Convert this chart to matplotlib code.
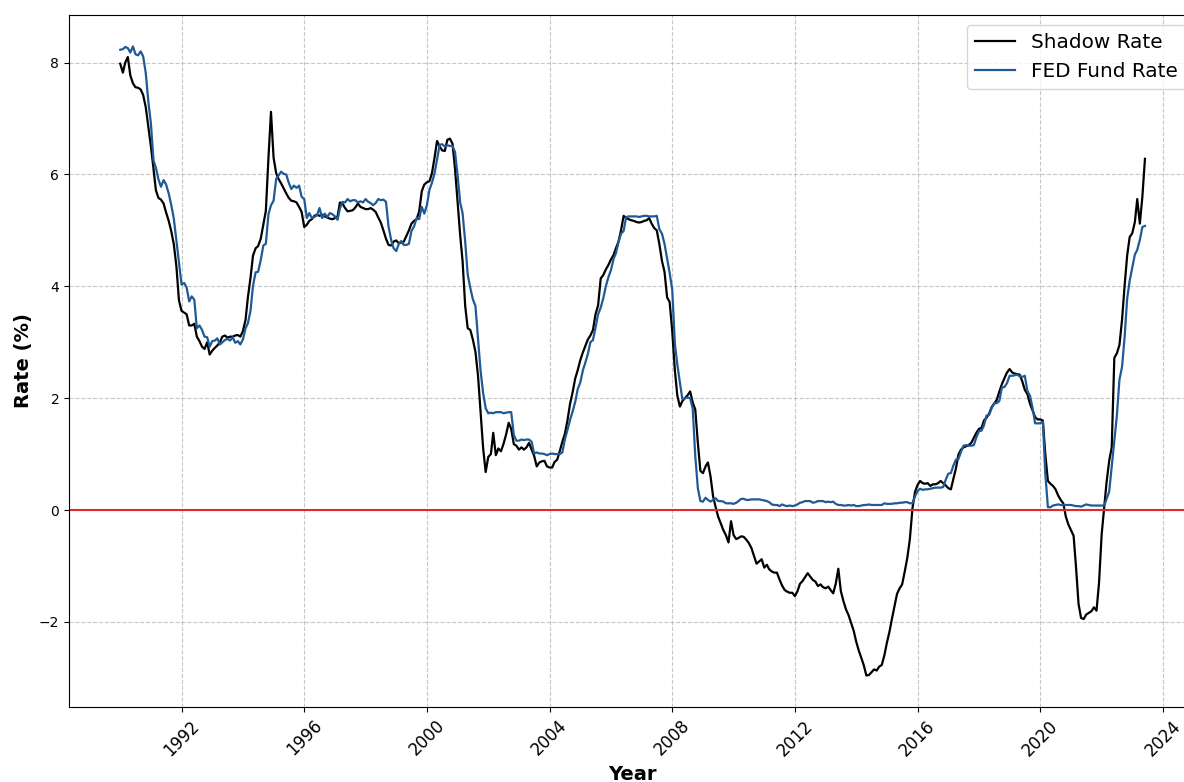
import numpy as np
import pandas as pd
import matplotlib
matplotlib.use("Agg")
import matplotlib.pyplot as plt
import matplotlib.dates as mdates

# monthly observations, Jan 1990 - Jun 2023
months = pd.date_range("1990-01-01", "2023-06-01", freq="MS")

shadow_rate = [
    7.98, 7.82, 8.00, 8.10, 7.77, 7.63, 7.56, 7.55, 7.52, 7.42, 7.20, 6.85,  # 1990
    6.50, 6.10, 5.72, 5.58, 5.55, 5.48, 5.32, 5.17, 4.98, 4.75, 4.35, 3.75,  # 1991
    3.56, 3.53, 3.50, 3.30, 3.30, 3.33, 3.10, 3.02, 2.92, 2.88, 3.00, 2.78,  # 1992
    2.85, 2.90, 2.94, 3.00, 3.10, 3.12, 3.08, 3.10, 3.10, 3.12, 3.13, 3.10,  # 1993
    3.20, 3.40, 3.80, 4.15, 4.55, 4.68, 4.72, 4.85, 5.10, 5.35, 6.30, 7.12,  # 1994
    6.30, 6.02, 5.92, 5.84, 5.75, 5.66, 5.58, 5.53, 5.52, 5.50, 5.42, 5.33,  # 1995
    5.06, 5.10, 5.17, 5.20, 5.26, 5.28, 5.26, 5.28, 5.25, 5.23, 5.21, 5.20,  # 1996
    5.22, 5.25, 5.50, 5.48, 5.40, 5.34, 5.35, 5.36, 5.41, 5.48, 5.42, 5.40,  # 1997
    5.38, 5.38, 5.40, 5.37, 5.33, 5.23, 5.14, 5.00, 4.85, 4.74, 4.73, 4.80,  # 1998
    4.82, 4.77, 4.78, 4.80, 4.90, 5.00, 5.12, 5.17, 5.20, 5.34, 5.70, 5.82,  # 1999
    5.86, 5.88, 6.02, 6.30, 6.60, 6.50, 6.43, 6.42, 6.62, 6.64, 6.55, 6.10,  # 2000
    5.50, 4.90, 4.45, 3.65, 3.25, 3.22, 3.05, 2.83, 2.40, 1.75, 1.10, 0.68,  # 2001
    0.95, 1.00, 1.38, 0.98, 1.10, 1.05, 1.18, 1.35, 1.56, 1.45, 1.18, 1.15,  # 2002
    1.08, 1.12, 1.08, 1.12, 1.20, 1.08, 0.97, 0.78, 0.85, 0.87, 0.88, 0.78,  # 2003
    0.76, 0.76, 0.86, 0.90, 1.05, 1.22, 1.36, 1.60, 1.90, 2.10, 2.35, 2.50,  # 2004
    2.68, 2.82, 2.93, 3.05, 3.12, 3.22, 3.50, 3.66, 4.14, 4.20, 4.30, 4.38,  # 2005
    4.48, 4.56, 4.68, 4.80, 5.00, 5.26, 5.22, 5.20, 5.18, 5.17, 5.15, 5.14,  # 2006
    5.15, 5.17, 5.18, 5.22, 5.12, 5.04, 5.00, 4.75, 4.45, 4.26, 3.80, 3.72,  # 2007
    3.20, 2.50, 2.05, 1.85, 1.95, 2.00, 2.05, 2.12, 1.92, 1.80, 1.20, 0.70,  # 2008
    0.66, 0.78, 0.85, 0.60, 0.25, 0.05, -0.12, -0.24, -0.36, -0.45, -0.58, -0.20,  # 2009
    -0.45, -0.52, -0.50, -0.47, -0.48, -0.53, -0.59, -0.68, -0.82, -0.96, -0.92, -0.88,  # 2010
    -1.03, -0.98, -1.06, -1.10, -1.12, -1.12, -1.24, -1.35, -1.43, -1.46, -1.48, -1.48,  # 2011
    -1.54, -1.45, -1.32, -1.27, -1.20, -1.13, -1.19, -1.25, -1.28, -1.36, -1.33, -1.38,  # 2012
    -1.40, -1.37, -1.43, -1.49, -1.32, -1.05, -1.45, -1.63, -1.78, -1.88, -2.02, -2.16,  # 2013
    -2.36, -2.52, -2.64, -2.78, -2.96, -2.95, -2.90, -2.85, -2.87, -2.80, -2.77, -2.60,  # 2014
    -2.37, -2.17, -1.95, -1.72, -1.50, -1.40, -1.33, -1.10, -0.85, -0.52, 0.03, 0.32,  # 2015
    0.45, 0.52, 0.48, 0.47, 0.48, 0.43, 0.46, 0.46, 0.48, 0.52, 0.48, 0.44,  # 2016
    0.39, 0.37, 0.55, 0.74, 0.99, 1.08, 1.12, 1.14, 1.16, 1.20, 1.29, 1.38,  # 2017
    1.45, 1.47, 1.60, 1.65, 1.72, 1.84, 1.90, 1.97, 2.12, 2.25, 2.36, 2.46,  # 2018
    2.52, 2.46, 2.44, 2.43, 2.42, 2.30, 2.15, 2.07, 1.90, 1.78, 1.66, 1.62,  # 2019
    1.62, 1.60, 1.00, 0.52, 0.47, 0.43, 0.37, 0.26, 0.18, 0.12, -0.12, -0.26,  # 2020
    -0.36, -0.46, -1.00, -1.68, -1.93, -1.95, -1.87, -1.84, -1.81, -1.74, -1.80, -1.30,  # 2021
    -0.44, 0.05, 0.50, 0.88, 1.12, 2.72, 2.80, 2.95, 3.40, 4.00, 4.55, 4.88,  # 2022
    4.95, 5.15, 5.56, 5.12, 5.60, 6.28,  # 2023
]

fed_funds = [
    8.23, 8.24, 8.28, 8.26, 8.18, 8.29, 8.15, 8.13, 8.20, 8.11, 7.81, 7.31,  # 1990
    6.91, 6.25, 6.12, 5.91, 5.78, 5.90, 5.82, 5.66, 5.45, 5.21, 4.81, 4.43,  # 1991
    4.03, 4.06, 3.98, 3.73, 3.82, 3.76, 3.25, 3.30, 3.22, 3.10, 3.09, 2.92,  # 1992
    3.02, 3.03, 3.07, 2.96, 3.00, 3.04, 3.06, 3.03, 3.09, 2.99, 3.02, 2.96,  # 1993
    3.05, 3.25, 3.34, 3.56, 4.01, 4.25, 4.26, 4.47, 4.73, 4.76, 5.29, 5.45,  # 1994
    5.53, 5.92, 5.98, 6.05, 6.01, 6.00, 5.85, 5.74, 5.80, 5.76, 5.80, 5.60,  # 1995
    5.56, 5.22, 5.31, 5.22, 5.24, 5.27, 5.40, 5.22, 5.30, 5.24, 5.31, 5.29,  # 1996
    5.25, 5.19, 5.39, 5.51, 5.50, 5.56, 5.52, 5.54, 5.54, 5.50, 5.52, 5.50,  # 1997
    5.56, 5.51, 5.49, 5.45, 5.49, 5.56, 5.54, 5.55, 5.51, 5.07, 4.83, 4.68,  # 1998
    4.63, 4.76, 4.81, 4.74, 4.74, 4.76, 4.99, 5.07, 5.22, 5.20, 5.42, 5.30,  # 1999
    5.45, 5.73, 5.85, 6.02, 6.27, 6.53, 6.54, 6.50, 6.52, 6.51, 6.51, 6.40,  # 2000
    5.98, 5.49, 5.31, 4.80, 4.21, 3.97, 3.77, 3.65, 3.07, 2.49, 2.09, 1.82,  # 2001
    1.73, 1.74, 1.73, 1.75, 1.75, 1.75, 1.73, 1.74, 1.75, 1.75, 1.34, 1.24,  # 2002
    1.24, 1.26, 1.25, 1.26, 1.26, 1.22, 1.01, 1.03, 1.01, 1.01, 1.00, 0.98,  # 2003
    1.00, 1.01, 1.00, 1.00, 1.00, 1.03, 1.26, 1.43, 1.61, 1.76, 1.93, 2.16,  # 2004
    2.28, 2.50, 2.63, 2.79, 3.00, 3.04, 3.26, 3.50, 3.62, 3.78, 4.00, 4.16,  # 2005
    4.29, 4.49, 4.59, 4.79, 4.94, 4.99, 5.24, 5.25, 5.25, 5.25, 5.25, 5.24,  # 2006
    5.25, 5.26, 5.26, 5.25, 5.25, 5.25, 5.26, 5.02, 4.94, 4.76, 4.49, 4.24,  # 2007
    3.94, 2.98, 2.61, 2.28, 1.98, 2.00, 2.01, 2.00, 1.81, 0.97, 0.39, 0.16,  # 2008
    0.15, 0.22, 0.18, 0.15, 0.18, 0.21, 0.16, 0.16, 0.15, 0.12, 0.12, 0.12,  # 2009
    0.11, 0.13, 0.16, 0.20, 0.20, 0.18, 0.18, 0.19, 0.19, 0.19, 0.19, 0.18,  # 2010
    0.17, 0.16, 0.14, 0.10, 0.09, 0.09, 0.07, 0.10, 0.08, 0.07, 0.08, 0.07,  # 2011
    0.08, 0.10, 0.13, 0.14, 0.16, 0.16, 0.16, 0.13, 0.14, 0.16, 0.16, 0.16,  # 2012
    0.14, 0.15, 0.14, 0.15, 0.11, 0.09, 0.09, 0.08, 0.08, 0.09, 0.08, 0.09,  # 2013
    0.07, 0.07, 0.08, 0.09, 0.09, 0.10, 0.09, 0.09, 0.09, 0.09, 0.09, 0.12,  # 2014
    0.11, 0.11, 0.11, 0.12, 0.12, 0.13, 0.13, 0.14, 0.14, 0.12, 0.12, 0.24,  # 2015
    0.34, 0.38, 0.36, 0.37, 0.37, 0.38, 0.39, 0.40, 0.40, 0.40, 0.41, 0.54,  # 2016
    0.65, 0.66, 0.79, 0.90, 0.91, 1.04, 1.15, 1.16, 1.15, 1.15, 1.16, 1.30,  # 2017
    1.41, 1.42, 1.51, 1.69, 1.70, 1.82, 1.91, 1.91, 1.95, 2.19, 2.20, 2.27,  # 2018
    2.40, 2.40, 2.41, 2.42, 2.39, 2.38, 2.40, 2.13, 2.04, 1.83, 1.55, 1.55,  # 2019
    1.55, 1.58, 0.65, 0.05, 0.05, 0.08, 0.09, 0.10, 0.09, 0.09, 0.09, 0.09,  # 2020
    0.09, 0.08, 0.07, 0.07, 0.06, 0.08, 0.10, 0.09, 0.08, 0.08, 0.08, 0.08,  # 2021
    0.08, 0.08, 0.20, 0.33, 0.77, 1.21, 1.68, 2.33, 2.56, 3.08, 3.78, 4.10,  # 2022
    4.33, 4.57, 4.65, 4.83, 5.06, 5.08,  # 2023
]

fig = plt.figure(figsize=(11.84, 7.82), dpi=100)
ax = fig.add_axes([0.0583, 0.0959, 0.952, 0.885])

ax.plot(months, shadow_rate, color="black", linewidth=1.6, label="Shadow Rate")
ax.plot(months, fed_funds, color="#1f5a96", linewidth=1.6, label="FED Fund Rate")
ax.axhline(0, color="#dd2a2a", linewidth=1.5)

ax.xaxis.set_major_locator(mdates.YearLocator(4))
ax.xaxis.set_major_formatter(mdates.DateFormatter("%Y"))
plt.setp(ax.get_xticklabels(), rotation=45, fontsize=12)
ax.tick_params(axis="y", labelsize=10)

ax.set_xlabel("Year", fontsize=14, fontweight="bold")
ax.set_ylabel("Rate (%)", fontsize=14, fontweight="bold")
ax.grid(True, linestyle="--", alpha=0.7)
ax.legend(loc="upper right", fontsize=14.4)

fig.savefig("out.png", dpi=100)
